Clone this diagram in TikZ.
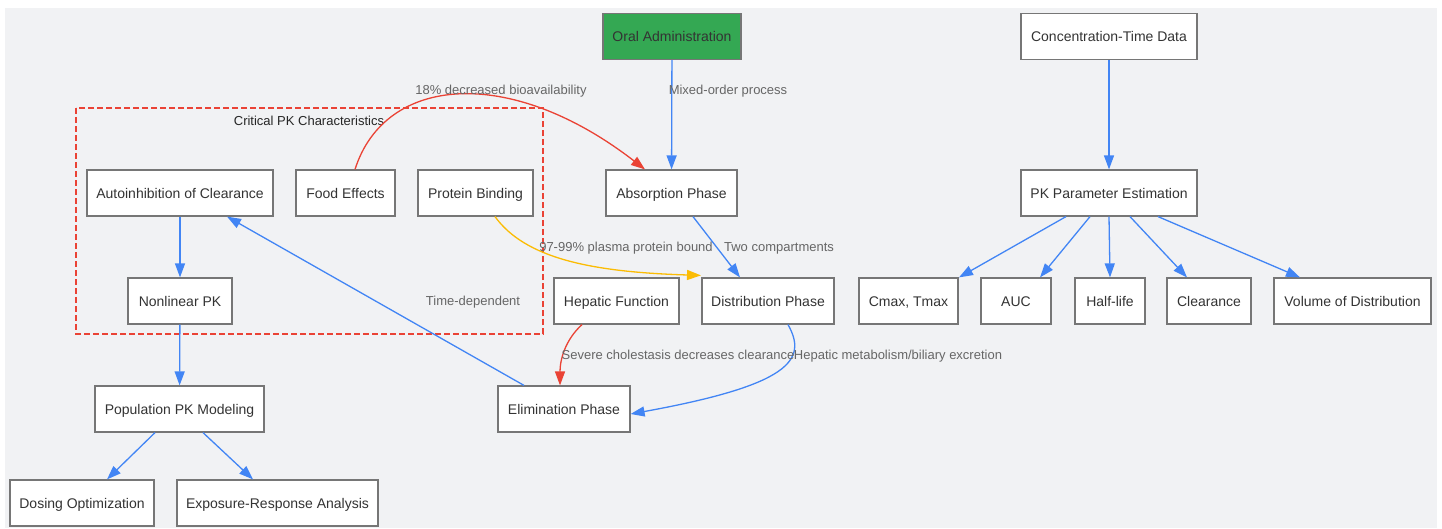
\documentclass[tikz,border=0pt]{standalone}
\usepackage{fontspec}
\setmainfont{Liberation Sans}
\usetikzlibrary{arrows.meta,calc}
\definecolor{bgc}{HTML}{F1F2F4}
\definecolor{eblue}{HTML}{4285F4}
\definecolor{ered}{HTML}{EA4335}
\definecolor{eyellow}{HTML}{FBBC04}
\definecolor{egreen}{HTML}{34A853}
\definecolor{bord}{HTML}{767676}
\definecolor{ntext}{HTML}{333333}
\definecolor{ltext}{HTML}{666666}
\tikzset{
  box/.style={draw=bord, line width=1.2pt, fill=white, minimum height=46pt, inner sep=0pt,
    font=\fontsize{14}{16}\selectfont, text=ntext, text height=11pt, text depth=1pt},
  lbl/.style={font=\fontsize{13}{15}\selectfont, text=ltext, inner sep=1pt, text height=10pt, text depth=0.7pt},
  edge/.style={line width=1.3pt, -{Triangle[length=14pt,width=10pt]}},
  bl/.style={edge, draw=eblue},
  rd/.style={edge, draw=ered},
  yl/.style={edge, draw=eyellow},
  grp/.style={draw=ered, dash pattern=on 6pt off 3pt, line width=1.2pt}
}
\begin{document}
\begin{tikzpicture}[x=1pt,y=-1pt]
\useasboundingbox (0,0) rectangle (1442,528);
\fill[bgc] (5,8) rectangle (1437,528);
% group
\draw[grp] (76,108) rectangle (543,334);
\node[font=\fontsize{13}{15}\selectfont, text=black!85, text height=10pt, text depth=0.7pt] (grplbl) at (309,121) {Critical PK Characteristics};
% nodes
\node[box, fill=egreen, minimum width=138pt] (oral) at (672,36.5) {Oral Administration};
\node[box, minimum width=176pt] (conc) at (1109,36.5) {Concentration-Time Data};
\node[box, minimum width=131pt] (absorb) at (671.5,193) {Absorption Phase};
\node[box, minimum width=176pt] (pkparam) at (1109,193) {PK Parameter Estimation};
\node[box, minimum width=186pt] (autoinh) at (180,193) {Autoinhibition of Clearance};
\node[box, minimum width=99pt] (food) at (345.5,193) {Food Effects};
\node[box, minimum width=115pt] (protein) at (475.5,193) {Protein Binding};
\node[box, minimum width=104pt] (nonlin) at (180,301) {Nonlinear PK};
\node[box, minimum width=125pt] (hepatic) at (616.5,301) {Hepatic Function};
\node[box, minimum width=132pt] (distrib) at (768,301) {Distribution Phase};
\node[box, minimum width=99pt] (cmax) at (908.5,301) {Cmax, Tmax};
\node[box, minimum width=70pt] (auc) at (1016,301) {AUC};
\node[box, minimum width=70pt] (half) at (1110,301) {Half-life};
\node[box, minimum width=84pt] (clear) at (1209,301) {Clearance};
\node[box, minimum width=157pt] (vol) at (1352.5,301) {Volume of Distribution};
\node[box, minimum width=132pt] (elim) at (564,409) {Elimination Phase};
\node[box, minimum width=169pt] (pop) at (179.5,409) {Population PK Modeling};
\node[box, minimum width=144pt] (dosing) at (82,503) {Dosing Optimization};
\node[box, minimum width=201pt] (expo) at (277.5,503) {Exposure-Response Analysis};
% edges
\draw[bl] (oral) -- (absorb);
\draw[rd] ([xshift=9.5pt]food.north) .. controls (385,75) and (510,65) .. ([xshift=-26.5pt]absorb.north);
\draw[yl] ([xshift=19.5pt]protein.south) .. controls (525,258) and (590,272) .. ([xshift=-67pt,yshift=2pt]distrib.north);
\draw[bl] ([xshift=21.5pt]absorb.south) -- ([xshift=-28pt]distrib.north);
\draw[bl] ([xshift=20pt]distrib.south) .. controls (808,360) and (790,385) .. ([yshift=-5pt]elim.east);
\draw[rd] ([xshift=-34.5pt]hepatic.south) .. controls (565,340) and (560,360) .. ([xshift=-4pt]elim.north);
\draw[bl] ([xshift=-40pt]elim.north) -- ([xshift=47pt]autoinh.south);
\draw[bl] (autoinh) -- (nonlin);
\draw[bl] (nonlin) -- (pop);
\draw[bl] ([xshift=-24.5pt]pop.south) -- ([xshift=25pt]dosing.north);
\draw[bl] ([xshift=23.5pt]pop.south) -- ([xshift=-24.5pt]expo.north);
\draw[bl] (conc) -- (pkparam);
\draw[bl] ([xshift=-43pt]pkparam.south) -- ([xshift=50.5pt]cmax.north);
\draw[bl] ([xshift=-19pt]pkparam.south) -- ([xshift=24pt]auc.north);
\draw[bl] (pkparam.south) -- (half.north);
\draw[bl] ([xshift=21pt]pkparam.south) -- ([xshift=-22pt]clear.north);
\draw[bl] ([xshift=49pt]pkparam.south) -- ([xshift=-52.5pt]vol.north);
% labels
\node[lbl] (l1) at (728,90) {Mixed-order process};
\node[lbl] (l2) at (501,90) {18\% decreased bioavailability};
\node[lbl] (l3) at (626,247) {97-99\% plasma protein bound};
\node[lbl] (l4) at (779,247) {Two compartments};
\node[lbl] (l5) at (473,301) {Time-dependent};
\node[lbl] (l6) at (678,355) {Severe cholestasis decreases clearance};
\node[lbl] (l7) at (898,355) {Hepatic metabolism/biliary excretion};
\end{tikzpicture}
\end{document}
